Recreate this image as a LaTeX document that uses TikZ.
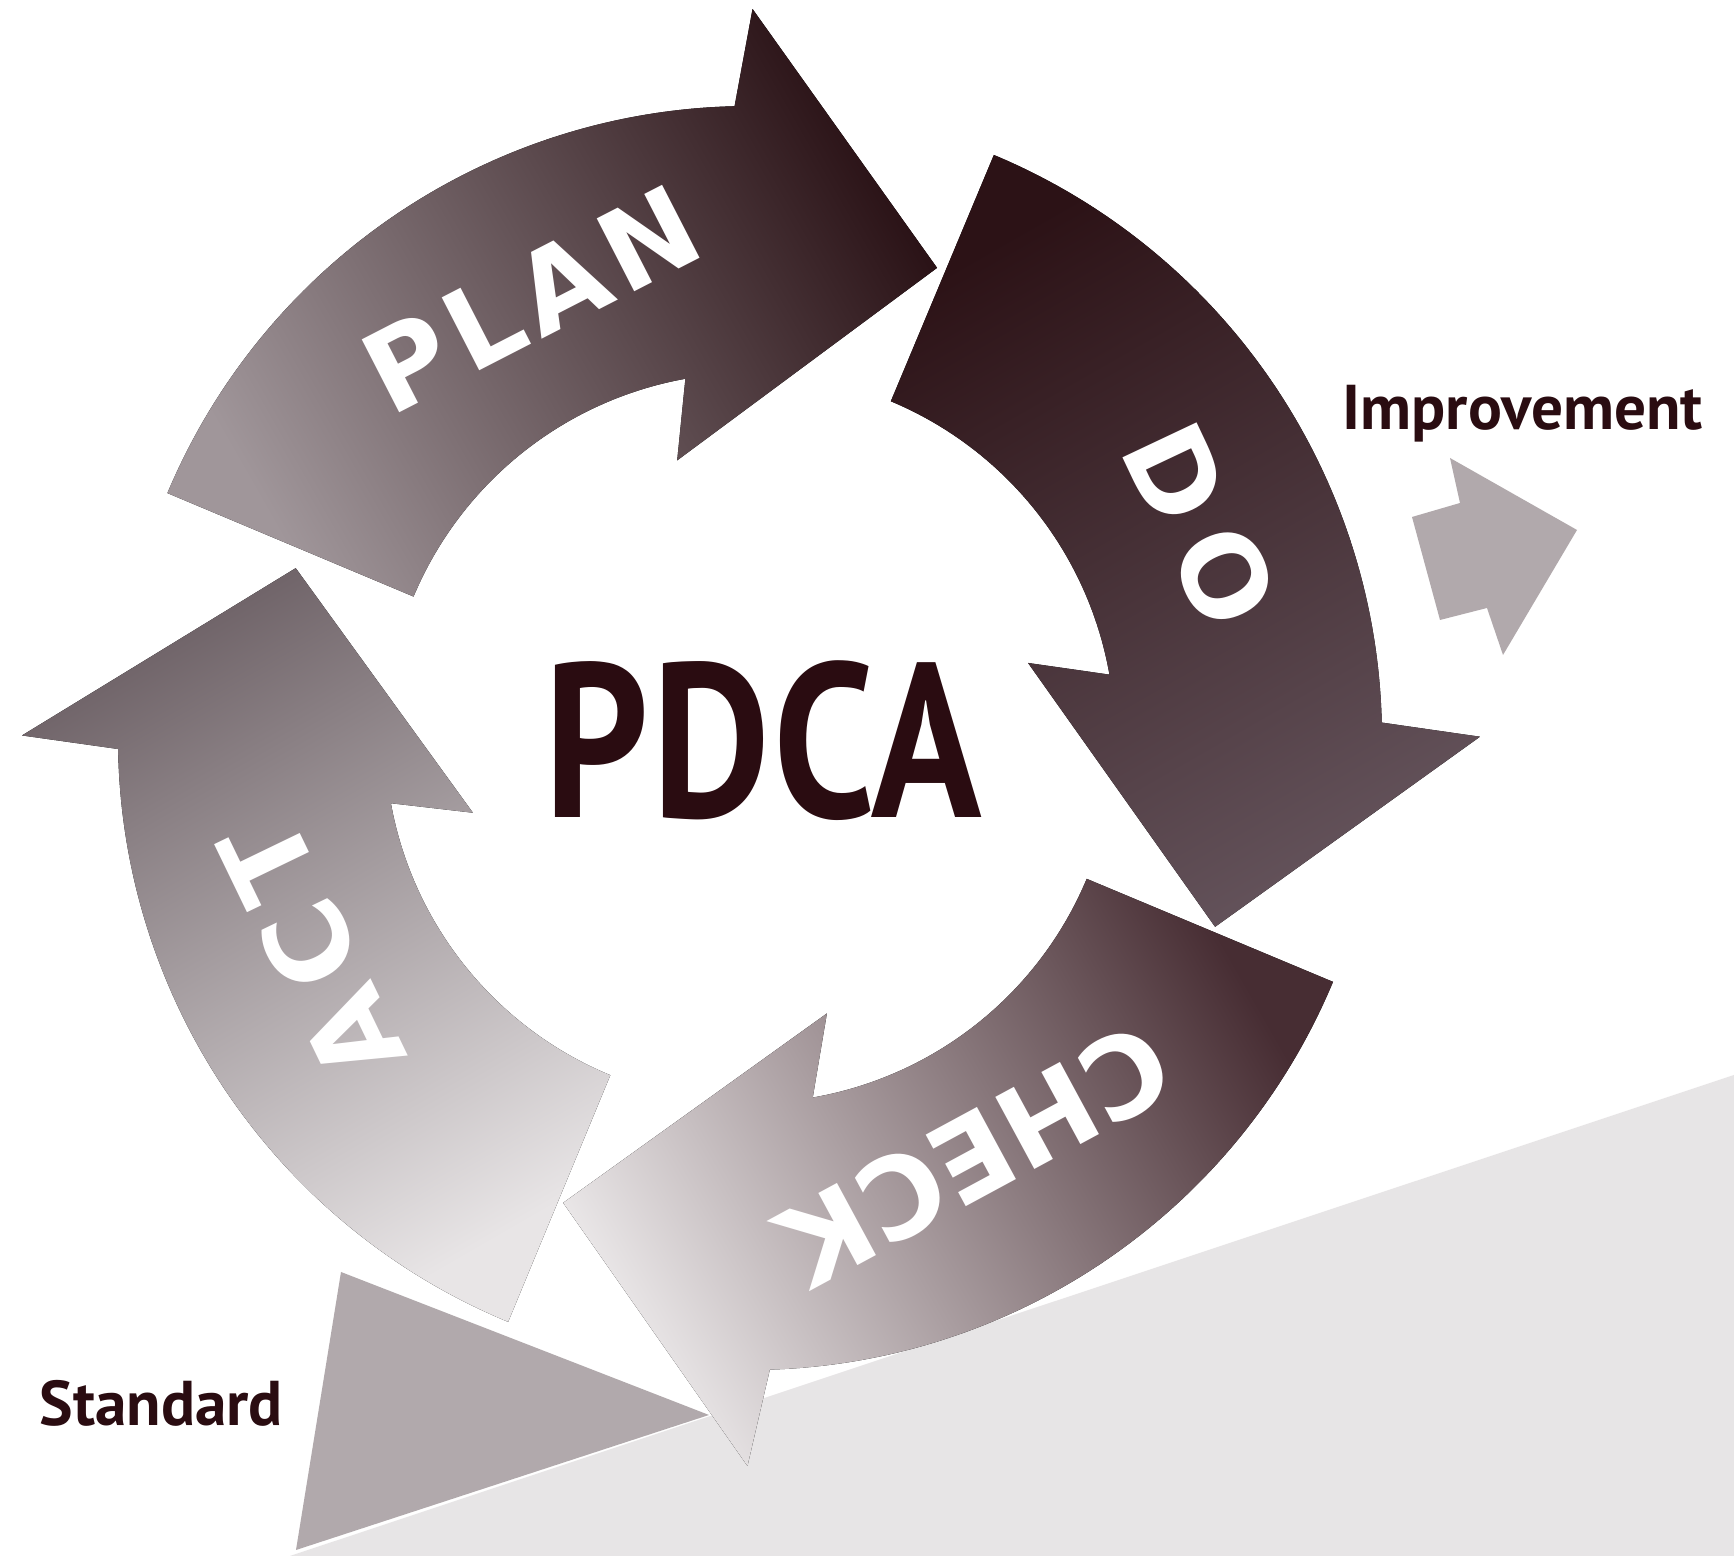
\documentclass[tikz,border=0pt]{standalone}
\usepackage{fontspec}
\setmainfont{PT Sans}
\newfontfamily\labelfont{DejaVu Sans}

\definecolor{ink}{HTML}{2A0C11}
\definecolor{flatgrey}{HTML}{B1A9AC}
\definecolor{slopegrey}{HTML}{E7E5E6}
\definecolor{plantail}{HTML}{A0969A}
\definecolor{planhead}{HTML}{2A1216}
\definecolor{dotail}{HTML}{2C1216}
\definecolor{dohead}{HTML}{63525A}
\definecolor{checktail}{HTML}{472D33}
\definecolor{checkhead}{HTML}{EAE7E8}
\definecolor{acttail}{HTML}{E8E5E6}
\definecolor{acthead}{HTML}{6F6368}

\begin{document}
\begin{tikzpicture}[
lbl/.style={text=white, inner sep=0pt,
  font=\labelfont\bfseries\fontsize{32}{32}\selectfont\addfontfeature{LetterSpace=#1}},
tag/.style={text=ink, inner sep=0pt, font=\bfseries\fontsize{18}{20}\selectfont},
planfill/.style={top color=plantail, bottom color=planhead, shading angle=119.7},
dofill/.style={top color=dotail, bottom color=dohead, shading angle=29.8},
checkfill/.style={top color=checktail, bottom color=checkhead, shading angle=-60.2},
actfill/.style={top color=acttail, bottom color=acthead, shading angle=210}]
\tikzstyle{flat}=[fill=flatgrey]

\useasboundingbox (0,0) rectangle (17.34,15.56);
\fill[white] (0,0) rectangle (17.34,15.56);

%Slope
\fill[slopegrey] (17.34,4.81) -- (17.34,0) -- (2.90,0) -- cycle;
%Standard
\fill[flat] (3.41,2.84) -- (7.09,1.41) -- (2.96,0.06) -- cycle;
\node[tag, anchor=base west] (standard) at (0.39,1.30) {Standard};
%Improvement
\fill[flat] (14.50,10.98) -- (14.60,10.53) -- (14.12,10.39) -- (14.40,9.36)
  -- (14.87,9.48) -- (15.03,9.01) -- (15.77,10.26) -- cycle;
\node[tag, anchor=base west] (improvement) at (13.42,11.26) {Improvement};

\begin{scope}[shift={(7.50,8.18)}]
%ACT
\fill[actfill] (247.5:6.32) arc[start angle=247.5, end angle=181, radius=6.32]
  -- (179.8:7.28) -- (159.5:4.85) -- (195.1:2.87)
  -- (190.3:3.65) arc[start angle=190.3, end angle=247.5, radius=3.65] -- cycle;
%CHECK
\fill[checkfill] (-22.7:6.32) arc[start angle=-22.7, end angle=-88.2, radius=6.32]
  -- (-90.2:7.28) -- (-111.9:5.01) -- (-74.4:2.86)
  -- (-80.1:3.65) arc[start angle=-80.1, end angle=-22.7, radius=3.65] -- cycle;
%PLAN
\fill[planfill] (157.2:6.32) arc[start angle=157.2, end angle=91.4, radius=6.32]
  -- (89.8:7.29) -- (68.3:5.06) -- (104.7:2.87)
  -- (100.2:3.65) arc[start angle=100.2, end angle=157.2, radius=3.65] -- cycle;
%DO
\fill[dofill] (67.3:6.32) arc[start angle=67.3, end angle=1.4, radius=6.32]
  -- (0.1:7.30) -- (-22.1:5.02) -- (15.1:2.88)
  -- (10:3.65) arc[start angle=10, end angle=67.3, radius=3.65] -- cycle;

\node[lbl=7, rotate=27.2] (plan) at (116.5:4.91) {PLAN};
\node[lbl=18, rotate=-64.7] (do) at (25.3:4.98) {DO};
\node[lbl=0, rotate=-151.6] (check) at (-61.6:4.74) {CHECK};
\node[lbl=13, rotate=115.8] (act) at (205.8:4.87) {ACT};
\end{scope}

%Centre
\node[text=ink, inner sep=0pt, anchor=base, xscale=0.83,
  font=\bfseries\fontsize{62.5}{63}\selectfont\addfontfeature{LetterSpace=2}] (pdca) at (7.63,7.38) {PDCA};
\end{tikzpicture}
\end{document}
